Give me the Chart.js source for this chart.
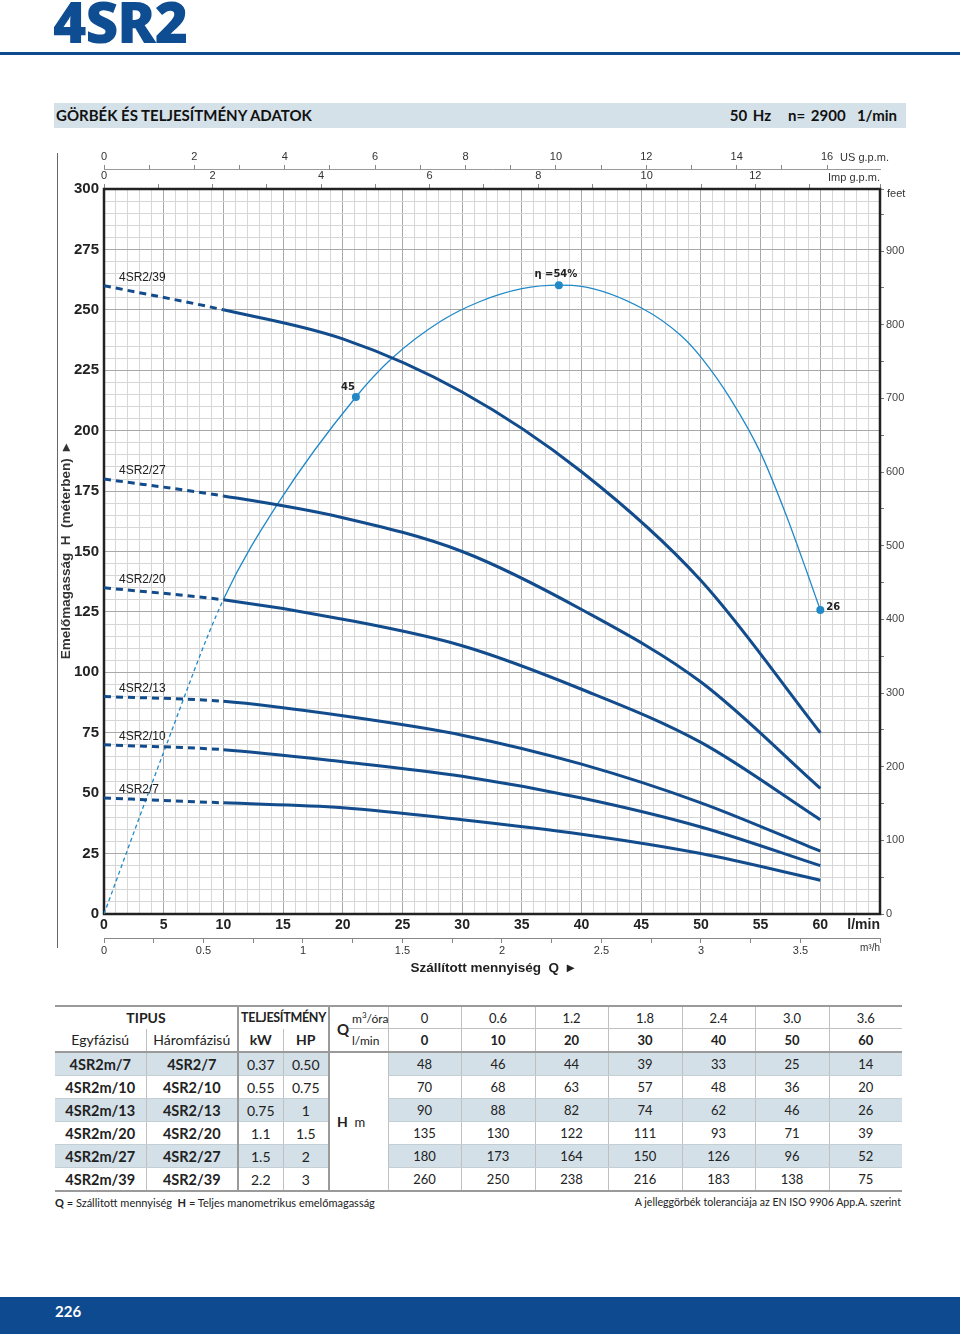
<!DOCTYPE html>
<html lang="hu">
<head>
<meta charset="utf-8">
<title>4SR2</title>
<script src="https://cdn.jsdelivr.net/npm/chart.js@4.4.1/dist/chart.umd.min.js"></script>
<style>
body { margin: 0; width: 960px; height: 1334px; position: relative; background: #fff; overflow: hidden; font-family: Lato, 'Open Sans', sans-serif; color: #222; }
#titulo { position: absolute; left: 53px; top: -7px; font: 800 57px/57px 'Open Sans', sans-serif; color: #0e4d92; letter-spacing: -1px; }
#linea_titulo { position: absolute; left: 0; top: 52px; width: 960px; height: 3px; background: #0d4a8f; }
#barra { position: absolute; left: 54px; top: 103px; width: 852px; height: 25px; background: #d5e1e9; font: bold 15px/25px Lato, sans-serif; color: #111; }
#barra .izq { position: absolute; left: 2px; }
#barra .der { position: absolute; right: 9px; word-spacing: 2px; }
#marco { position: absolute; left: 57px; top: 153px; width: 1px; height: 795px; background: #666; }
#grafico { position: absolute; left: 58px; top: 145px; }
#tabla { position: absolute; left: 55px; top: 1005px; width: 847px; border-collapse: collapse; table-layout: fixed; border-top: 2px solid #9a9a9a; border-bottom: 2px solid #9a9a9a; font-size: 13px; }
#tabla td, #tabla th { padding: 0; text-align: center; white-space: nowrap; overflow: hidden; }
#tabla tr.h1 td, #tabla tr.h1 th { height: 21px; }
#tabla tr.h2 td, #tabla tr.h2 th { height: 22px; border-bottom: 2px solid #9a9a9a; }
#tabla tr.fila td { height: 22px; border-bottom: 1px solid #c4ced5; }
#tabla tr.sombra td { background: #d3e0e8; }
#tabla th { font-weight: bold; font-size: 14px; }
#tabla .v { border-left: 1px solid #c0c0c0; }
#tabla .g { border-left: 2px solid #9a9a9a; }
#tabla .nom { font-weight: bold; font-size: 14.5px; }
#tabla .pot { font-size: 14px; }
#tabla .unidad { text-align: left; padding-left: 3px; font-size: 12px; }
#tabla tr.h1 .linea { border-bottom: 1px solid #c0c0c0; }
#tabla td.hm { background: #fff !important; text-align: left; padding-left: 7px; font-size: 13px; border-bottom: none; }
.pie { position: absolute; top: 1196px; font-size: 11px; color: #222; }
#pie_izq { left: 55px; }
#pie_der { right: 59px; font-size: 10.6px; }
#barra_baja { position: absolute; left: 0; top: 1297px; width: 960px; height: 37px; background: #0d4a8f; }
#barra_baja span { position: absolute; left: 55px; top: 0; font: bold 15px/28px Lato, sans-serif; color: #fff; }
</style>
</head>
<body>
<div id="titulo">4SR2</div>
<div id="linea_titulo"></div>
<div id="barra"><span class="izq">GÖRBÉK ÉS TELJESÍTMÉNY ADATOK</span><span class="der">50 Hz &nbsp;&nbsp;n= 2900 &nbsp;1/min</span></div>
<div id="marco"></div>
<canvas id="grafico" width="862" height="840"></canvas>
<table id="tabla"></table>
<div class="pie" id="pie_izq"><b>Q</b> = Szállitott mennyiség &nbsp;<b>H</b> = Teljes manometrikus emelőmagasság</div>
<div class="pie" id="pie_der">A jelleggörbék toleranciája az EN ISO 9906 App.A. szerint</div>
<div id="barra_baja"><span>226</span></div>

<script>
// datos de la tabla (Q en l/min y m3/h)
const caudal = [0, 10, 20, 30, 40, 50, 60]
const caudal_m3h = ['0', '0.6', '1.2', '1.8', '2.4', '3.0', '3.6']
const modelos = ['4SR2/7', '4SR2/10', '4SR2/13', '4SR2/20', '4SR2/27', '4SR2/39']
const modelos_mono = ['4SR2m/7', '4SR2m/10', '4SR2m/13', '4SR2m/20', '4SR2m/27', '4SR2m/39']
const potencia_kw = ['0.37', '0.55', '0.75', '1.1', '1.5', '2.2']
const potencia_hp = ['0.50', '0.75', '1', '1.5', '2', '3']

// altura H (m) por modelo
const altura_7 = [48, 46, 44, 39, 33, 25, 14]
const altura_10 = [70, 68, 63, 57, 48, 36, 20]
const altura_13 = [90, 88, 82, 74, 62, 46, 26]
const altura_20 = [135, 130, 122, 111, 93, 71, 39]
const altura_27 = [180, 173, 164, 150, 126, 96, 52]
const altura_39 = [260, 250, 238, 216, 183, 138, 75]

// curva de rendimiento (%)
const q_rendimiento = [0, 5, 10, 14.6, 21.1, 24.1, 28.2, 31.5, 35, 38.1, 40, 45.1, 48.3, 50.1, 52.5, 55, 57.2, 58.9, 60]
const rendimiento = [0, 13.9, 27.0, 35.3, 44.4, 47.7, 50.9, 52.6, 53.7, 54, 53.9, 52.0, 49.7, 47.7, 44.2, 39.6, 34.1, 29.3, 26.1]
const q_marcas = [21.1, 38.1, 60]
const rendimiento_marcas = [44.4, 54, 26.1]
const textos_marcas = ['45', 'η =54%', '26']

const alturas = [altura_7, altura_10, altura_13, altura_20, altura_27, altura_39]

// conversiones de unidades
const LMIN_US = 3.7854
const LMIN_IMP = 4.5461
const LMIN_M3H = 16.667
const M_FT = 0.3048
const Q_MAX = 65
const H_MAX = 300
const REND_MAX = 54 * H_MAX / 260.2

const fuente = "'Liberation Sans Narrow', 'Liberation Sans', Arial, sans-serif"
const azul = '#124c8c'
const celeste = '#2189c8'

document.addEventListener('DOMContentLoaded', () => {
    armar_tabla()
    dibujar_grafico()
})

function armar_tabla() {
    let html = '<colgroup><col style="width:91px"><col style="width:92px"><col style="width:45px"><col style="width:46px"><col style="width:20px"><col style="width:39px">'
    for (let i = 0; i < 7; i++) html += '<col style="width:' + (i % 2 ? 74 : 73) + 'px">'
    html += '</colgroup>'

    html += '<tr class="h1"><th colspan="2">TIPUS</th><th colspan="2" class="g" style="font-size:12.5px;letter-spacing:-0.3px">TELJESÍTMÉNY</th>'
    html += '<th rowspan="2" class="g" style="text-align:left;padding-left:7px;font-size:15px;border-bottom:2px solid #9a9a9a">Q</th><td class="unidad linea">m<sup style="font-size:8px">3</sup>/óra</td>'
    caudal_m3h.forEach(v => { html += '<td class="v linea">' + v + '</td>' })
    html += '</tr>'

    html += '<tr class="h2"><td style="font-size:14px">Egyfázisú</td><td class="v" style="font-size:14px">Háromfázisú</td><th class="g">kW</th><th class="v">HP</th><td class="unidad">l/min</td>'
    caudal.forEach(v => { html += '<td class="v"><b>' + v + '</b></td>' })
    html += '</tr>'

    modelos.forEach((m, i) => {
        html += '<tr class="fila' + (i % 2 === 0 ? ' sombra' : '') + '">'
        html += '<td class="nom">' + modelos_mono[i] + '</td><td class="nom v">' + m + '</td>'
        html += '<td class="pot g">' + potencia_kw[i] + '</td><td class="pot v">' + potencia_hp[i] + '</td>'
        if (i === 0) html += '<td colspan="2" rowspan="6" class="hm g"><b style="font-size:14px">H</b>&nbsp;&nbsp;m</td>'
        alturas[i].forEach(v => { html += '<td class="v">' + v + '</td>' })
        html += '</tr>'
    })
    document.getElementById('tabla').innerHTML = html
}

function dibujar_grafico() {
    const datasets = alturas.map((alt, i) => ({
        label: modelos[i],
        data: caudal.map((q, j) => ({ x: q, y: alt[j] })),
        borderColor: azul,
        borderWidth: 3,
        pointRadius: 0,
        cubicInterpolationMode: 'monotone',
        segment: { borderDash: ctx => ctx.p1.parsed.x <= 10 ? [7, 5] : undefined },
        xAxisID: 'x',
        yAxisID: 'y'
    }))

    datasets.push({
        label: 'rendimiento',
        data: q_rendimiento.map((q, j) => ({ x: q, y: rendimiento[j] })),
        borderColor: celeste,
        borderWidth: 1.3,
        pointRadius: 0,
        cubicInterpolationMode: 'monotone',
        segment: { borderDash: ctx => ctx.p1.parsed.x <= 10 ? [4, 3] : undefined },
        xAxisID: 'x',
        yAxisID: 'yRend'
    })

    datasets.push({
        label: 'marcas',
        data: q_marcas.map((q, j) => ({ x: q, y: rendimiento_marcas[j] })),
        showLine: false,
        pointRadius: 4,
        pointBackgroundColor: celeste,
        pointBorderWidth: 0,
        xAxisID: 'x',
        yAxisID: 'yRend'
    })

    const grilla = paso => c => (c.tick && c.tick.value % paso === 0) ? '#a8a8a8' : '#d6d6d6'

    // textos sobre el grafico: nombres, marcas, unidades y marco
    const plugin_textos = {
        id: 'textos',
        beforeDatasetsDraw(chart) {
            const { ctx, chartArea } = chart
            ctx.save()
            ctx.strokeStyle = '#222'
            ctx.lineWidth = 2.5
            ctx.strokeRect(chartArea.left, chartArea.top, chartArea.right - chartArea.left, chartArea.bottom - chartArea.top)
            ctx.restore()
        },
        afterDatasetsDraw(chart) {
            const { ctx, chartArea, scales } = chart
            ctx.save()
            ctx.fillStyle = '#222'
            ctx.textBaseline = 'middle'

            ctx.font = '12px ' + fuente
            ctx.textAlign = 'left'
            modelos.forEach((m, i) => {
                ctx.fillText(m, scales.x.getPixelForValue(0) + 15, scales.y.getPixelForValue(alturas[i][0]) - 8)
            })

            const puntos = chart.getDatasetMeta(datasets.length - 1).data
            ctx.font = 'bold 10px DejaVu Sans, sans-serif'
            ctx.textAlign = 'center'
            ctx.fillText(textos_marcas[0], puntos[0].x - 8, puntos[0].y - 10)
            ctx.fillText(textos_marcas[1], puntos[1].x - 3, puntos[1].y - 11)
            ctx.textAlign = 'left'
            ctx.fillText(textos_marcas[2], puntos[2].x + 6, puntos[2].y - 3)

            ctx.fillStyle = '#333'
            ctx.font = '11px ' + fuente
            ctx.fillText('US g.p.m.', scales.xus.getPixelForValue(16) + 13, scales.xus.top + 13)
            ctx.textAlign = 'right'
            ctx.fillText('Imp g.p.m.', chartArea.right, scales.ximp.top + 9)
            ctx.textAlign = 'left'
            ctx.fillText('feet', chartArea.right + 7, chartArea.top + 5)
            ctx.textAlign = 'right'
            ctx.font = '10px ' + fuente
            ctx.fillText('m³/h', chartArea.right, chartArea.bottom + 34)
            ctx.fillStyle = '#222'
            ctx.font = 'bold 14px ' + fuente
            ctx.fillText('l/min', chartArea.right, chartArea.bottom + 11)
            ctx.restore()
        }
    }

    const ctx = document.getElementById('grafico').getContext('2d')
    new Chart(ctx, {
        type: 'line',
        data: { datasets: datasets },
        plugins: [plugin_textos],
        options: {
            responsive: false,
            animation: false,
            layout: { padding: 0 },
            plugins: { legend: { display: false }, tooltip: { enabled: false } },
            scales: {
                x: {
                    type: 'linear', position: 'bottom', weight: 0, min: 0, max: Q_MAX,
                    ticks: {
                        stepSize: 1, autoSkip: false, maxRotation: 0, padding: 3, color: '#222',
                        font: { family: fuente, size: 14, weight: 'bold' },
                        callback: v => (v % 5 === 0 && v <= 60) ? String(v) : ''
                    },
                    grid: { drawTicks: false, color: grilla(5), lineWidth: 1 },
                    border: { display: false },
                    afterFit: s => { s.height = 24 }
                },
                xm3h: {
                    type: 'linear', position: 'bottom', weight: 1, min: 0, max: Q_MAX / LMIN_M3H,
                    ticks: {
                        stepSize: 0.25, autoSkip: false, maxRotation: 0, padding: 1, color: '#333',
                        font: { family: fuente, size: 11 },
                        callback: v => Math.abs(v * 2 - Math.round(v * 2)) < 1e-6 ? String(v) : ''
                    },
                    grid: { drawOnChartArea: false, tickLength: 5, color: '#888' },
                    border: { display: true, color: '#888', width: 1 },
                    title: {
                        display: true, text: 'Szállított mennyiség  Q  ▸', color: '#222',
                        font: { family: "'Liberation Sans', Arial, sans-serif", size: 13.5, weight: 'bold' },
                        padding: { top: 0, bottom: 9 }
                    },
                    afterFit: s => { s.height = 47 }
                },
                ximp: {
                    type: 'linear', position: 'top', weight: 0, min: 0, max: Q_MAX / LMIN_IMP,
                    ticks: {
                        stepSize: 1, autoSkip: false, maxRotation: 0, padding: 1, color: '#333',
                        font: { family: fuente, size: 11 },
                        callback: v => (v % 2 === 0 && v <= 12) ? String(v) : ''
                    },
                    grid: { drawOnChartArea: false, tickLength: 5, color: '#888' },
                    border: { display: false },
                    afterFit: s => { s.height = 20 }
                },
                xus: {
                    type: 'linear', position: 'top', weight: 1, min: 0, max: Q_MAX / LMIN_US,
                    ticks: {
                        stepSize: 1, autoSkip: false, maxRotation: 0, padding: 1, color: '#333',
                        font: { family: fuente, size: 11 },
                        callback: v => (v % 2 === 0 && v <= 16) ? String(v) : ''
                    },
                    grid: { drawOnChartArea: false, tickLength: 4, color: c => (c.tick && c.tick.value > 16.5) ? 'rgba(0,0,0,0)' : '#888' },
                    border: { display: true, color: '#999', width: 1 },
                    afterFit: s => { s.height = 24 }
                },
                y: {
                    type: 'linear', position: 'left', min: 0, max: H_MAX,
                    ticks: {
                        stepSize: 5, autoSkip: false, padding: 5, color: '#222',
                        font: { family: fuente, size: 15, weight: 'bold' },
                        callback: v => v % 25 === 0 ? String(v) : ''
                    },
                    grid: { drawTicks: false, color: grilla(25), lineWidth: 1 },
                    border: { display: false },
                    title: {
                        display: true, text: 'Emelőmagasság  H  (méterben)  ▸', color: '#333',
                        font: { family: "'Liberation Sans', Arial, sans-serif", size: 13.5, weight: 'bold' },
                        padding: 0
                    },
                    afterFit: s => { s.width = 46 }
                },
                yft: {
                    type: 'linear', position: 'right', min: 0, max: H_MAX / M_FT,
                    ticks: {
                        stepSize: 50, autoSkip: false, padding: 2, color: '#444',
                        font: { family: fuente, size: 11 },
                        callback: v => v % 100 === 0 ? String(v) : ''
                    },
                    grid: { drawOnChartArea: false, tickLength: 4, color: '#777' },
                    border: { display: false },
                    afterFit: s => { s.width = 40 }
                },
                yRend: { type: 'linear', display: false, min: 0, max: REND_MAX }
            }
        }
    })
}
</script>
</body>
</html>
